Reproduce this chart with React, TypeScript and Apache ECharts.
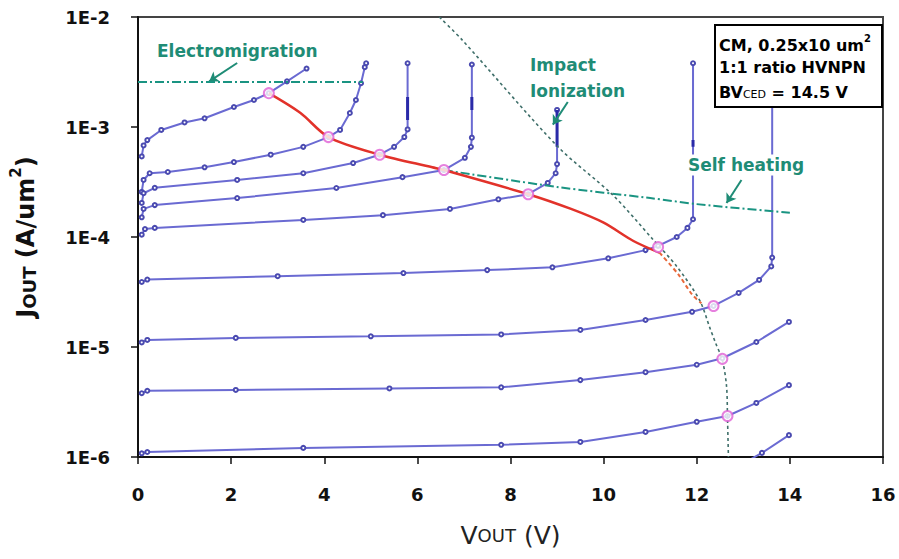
import React, { useEffect, useRef } from 'react';
import * as echarts from 'echarts';

const FONT = 'DejaVu Sans';

// Measured I-V curves (V_OUT, J_OUT)
const curve1: [number, number][] = [[0.08, 5.4e-4], [0.12, 6.8e-4], [0.2, 7.6e-4], [0.5, 9.4e-4], [1.0, 1.1e-3], [1.43, 1.2e-3], [2.06, 1.52e-3], [2.49, 1.76e-3], [2.81, 2.03e-3], [3.2, 2.6e-3], [3.62, 3.4e-3]];
const curve2: [number, number][] = [[0.08, 2.57e-4], [0.12, 3.3e-4], [0.25, 3.8e-4], [0.64, 3.9e-4], [1.43, 4.3e-4], [2.06, 4.8e-4], [2.85, 5.6e-4], [3.55, 6.6e-4], [4.09, 8.1e-4], [4.34, 9.4e-4], [4.55, 1.34e-3], [4.68, 1.76e-3], [4.79, 2.5e-3], [4.87, 3.5e-3], [4.9, 3.8e-3]];
const curve3: [number, number][] = [[0.08, 2.04e-4], [0.12, 2.5e-4], [0.36, 2.8e-4], [2.13, 3.3e-4], [3.55, 3.8e-4], [4.62, 4.7e-4], [5.19, 5.6e-4], [5.5, 6.6e-4], [5.72, 8.1e-4], [5.79, 9.5e-4], [5.79, 3.8e-3]];
const curve4: [number, number][] = [[0.08, 1.51e-4], [0.12, 1.8e-4], [0.36, 1.95e-4], [2.13, 2.26e-4], [4.26, 2.79e-4], [5.68, 3.5e-4], [6.57, 4.06e-4], [7.02, 5.25e-4], [7.15, 6.6e-4], [7.17, 8.0e-4], [7.17, 3.7e-3]];
const curve5: [number, number][] = [[0.08, 1.05e-4], [0.15, 1.18e-4], [0.36, 1.21e-4], [3.55, 1.43e-4], [5.26, 1.58e-4], [6.7, 1.8e-4], [7.74, 2.2e-4], [8.38, 2.45e-4], [8.8, 3.1e-4], [8.97, 3.8e-4], [9.0, 4.6e-4], [9.0, 1.43e-3]];
const curve6: [number, number][] = [[0.08, 3.9e-5], [0.2, 4.1e-5], [3.0, 4.4e-5], [5.7, 4.7e-5], [7.5, 5.0e-5], [8.9, 5.3e-5], [10.1, 6.4e-5], [10.9, 7.6e-5], [11.17, 8.3e-5], [11.57, 1.0e-4], [11.8, 1.21e-4], [11.92, 1.45e-4], [11.92, 3.8e-3]];
const curve7: [number, number][] = [[0.08, 1.1e-5], [0.2, 1.16e-5], [2.1, 1.21e-5], [5.0, 1.25e-5], [7.8, 1.3e-5], [9.5, 1.43e-5], [10.9, 1.76e-5], [11.9, 2.09e-5], [12.36, 2.36e-5], [12.9, 3.1e-5], [13.34, 4.07e-5], [13.6, 5.4e-5], [13.62, 6.5e-5], [13.62, 3.66e-3]];
const curve8: [number, number][] = [[0.08, 3.8e-6], [0.2, 4.0e-6], [2.1, 4.07e-6], [5.4, 4.2e-6], [7.8, 4.3e-6], [9.5, 5.0e-6], [10.9, 5.9e-6], [12.0, 6.9e-6], [12.55, 7.9e-6], [13.28, 1.11e-5], [13.98, 1.69e-5]];
const curve9: [number, number][] = [[0.08, 1.08e-6], [0.2, 1.11e-6], [3.55, 1.21e-6], [7.8, 1.29e-6], [9.5, 1.37e-6], [10.9, 1.69e-6], [12.0, 2.09e-6], [12.66, 2.36e-6], [13.28, 3.1e-6], [13.98, 4.5e-6]];
const curve10: [number, number][] = [[13.15, 9.5e-7], [13.4, 1.09e-6], [13.98, 1.58e-6]];
const ivCurves = [curve1, curve2, curve3, curve4, curve5, curve6, curve7, curve8, curve9, curve10];

// Dense (overlapping-marker) segments of the snapback verticals
const thickSegments: [number, number][][] = [
  [[5.79, 1.16e-3], [5.79, 1.87e-3]],
  [[7.17, 1.43e-3], [7.17, 1.87e-3]],
  [[9.0, 6.6e-4], [9.0, 1.43e-3]],
  [[11.92, 6.6e-4], [11.92, 7.6e-4]],
];

// Limit lines
const electromigration: [number, number][] = [[0, 2.57e-3], [4.83, 2.57e-3]];
const selfHeating: [number, number][] = [[6.57, 4.06e-4], [9.0, 2.85e-4], [11.0, 2.26e-4], [12.0, 1.99e-4], [14.0, 1.66e-4]];
const impactIonization: [number, number][] = [[6.47, 1e-2], [6.96, 6.2e-3], [9.02, 6.6e-4], [10.2, 2.4e-4], [11.05, 9.6e-5], [11.57, 5.4e-5], [12.06, 2.67e-5], [12.28, 1.5e-5], [12.4, 1.1e-5], [12.55, 7.6e-6], [12.64, 4.4e-6], [12.66, 2.3e-6], [12.68, 1e-6]];
const soaBoundary: [number, number][] = [[2.81, 2.03e-3], [3.49, 1.34e-3], [4.09, 8.1e-4], [5.19, 5.6e-4], [6.32, 4.3e-4], [6.57, 4.06e-4], [8.38, 2.45e-4], [9.3, 1.8e-4], [10.0, 1.35e-4], [10.64, 9.2e-5], [11.2, 7.2e-5]];
const soaTail: [number, number][] = [[11.2, 7.2e-5], [11.6, 4.6e-5], [11.9, 3.0e-5], [12.1, 2.5e-5]];
const soaPoints: [number, number][] = [[2.81, 2.03e-3], [4.09, 8.1e-4], [5.19, 5.6e-4], [6.57, 4.06e-4], [8.38, 2.45e-4], [11.17, 8.1e-5], [12.36, 2.36e-5], [12.55, 7.8e-6], [12.66, 2.36e-6]];

// Annotation arrows [from, to]
const arrows: [number, number][][] = [
  [[2.13, 3.82e-3], [1.53, 2.6e-3]],
  [[9.23, 1.69e-3], [8.91, 1.05e-3]],
  [[12.96, 3.3e-4], [12.64, 2.04e-4]],
];

const xMin = 0, xMax = 16, xStep = 2;
const yMin = 1e-6, yMax = 1e-2;

const TEAL = '#1f8c76';
const BLUE = '#6a6ad2';

export default function App() {
  const ref = useRef<HTMLDivElement>(null);
  useEffect(() => {
    const chart = echarts.init(ref.current!, null, { renderer: 'svg' });
    const series: any[] = [];
    ivCurves.forEach((c, i) => {
      series.push({
        type: 'line', name: 'curve' + (i + 1), data: c,
        showSymbol: true, symbol: 'emptyCircle', symbolSize: 4,
        lineStyle: { color: BLUE, width: 2 },
        itemStyle: { color: '#4a4ab0', borderWidth: 1 },
        z: 3, silent: true,
      });
    });
    thickSegments.forEach((s) => {
      series.push({ type: 'line', data: s, showSymbol: false, lineStyle: { color: '#2a2aa8', width: 3 }, z: 4 });
    });
    series.push({ type: 'line', name: 'Electromigration', data: electromigration, showSymbol: false,
      lineStyle: { color: '#1a9482', width: 2, type: [9, 3, 2, 3] }, z: 5 });
    series.push({ type: 'line', name: 'Self heating', data: selfHeating, showSymbol: false, smooth: 0.3,
      lineStyle: { color: '#1a9482', width: 2, type: [9, 3, 2, 3] }, z: 5 });
    series.push({ type: 'line', name: 'Impact ionization', data: impactIonization, showSymbol: false, smooth: 0.3,
      lineStyle: { color: '#3f6f6a', width: 1.6, type: [3, 3] }, z: 5 });
    series.push({ type: 'line', name: 'SOA', data: soaBoundary, showSymbol: false, smooth: 0.3,
      lineStyle: { color: '#e2322a', width: 2.5 }, z: 6 });
    series.push({ type: 'line', name: 'SOA tail', data: soaTail, showSymbol: false, smooth: 0.3,
      lineStyle: { color: '#e8683a', width: 2, type: [4, 3] }, z: 6,
      markLine: {
        silent: true, symbol: ['none', 'arrow'], symbolSize: 9, label: { show: false },
        lineStyle: { color: TEAL, width: 2, type: 'solid' },
        data: arrows.map((a) => [{ coord: a[0] }, { coord: a[1] }]),
      } });
    series.push({ type: 'scatter', name: 'points', data: soaPoints, symbol: 'emptyCircle', symbolSize: 10,
      itemStyle: { color: '#e060d6', borderColor: '#e060d6', borderWidth: 1.6 }, z: 7 });

    const txt = (x: number, y: number, text: string, size: number, extra: any = {}) => ({
      type: 'text', x, y, z: 100,
      style: { text, fill: TEAL, font: `bold ${size}px ${FONT}`, textVerticalAlign: 'middle', ...extra },
    });

    chart.setOption({
      animation: false,
      backgroundColor: '#fff',
      grid: { left: 133, top: 17, right: 16, bottom: 102, show: true, borderColor: '#444', borderWidth: 2 },
      xAxis: {
        type: 'value', min: xMin, max: xMax, interval: xStep,
        name: '{v|V}{s|OUT}{v| (V)}', nameLocation: 'middle', nameGap: 66,
        nameTextStyle: { rich: {
          v: { fontFamily: FONT, fontSize: 25, color: '#222' },
          s: { fontFamily: FONT, fontSize: 18, color: '#222' },
        } },
        axisLine: { show: true, lineStyle: { color: '#111', width: 2 } },
        axisTick: { show: true, length: 7, lineStyle: { color: '#111', width: 1.5 } },
        axisLabel: { margin: 28, fontFamily: FONT, fontWeight: 'bold', fontSize: 18, color: '#111' },
        splitLine: { show: false },
      },
      yAxis: {
        type: 'log', logBase: 10, min: yMin, max: yMax, interval: 1,
        name: '{j|J}{s|OUT}{j| (A/um}{p|2}{j|)}', nameLocation: 'middle', nameGap: 100, nameRotate: 90,
        nameTextStyle: { rich: {
          j: { fontFamily: FONT, fontWeight: 'bold', fontSize: 24, color: '#111', lineHeight: 30, verticalAlign: 'bottom' },
          s: { fontFamily: FONT, fontWeight: 'bold', fontSize: 18, color: '#111', lineHeight: 30, verticalAlign: 'bottom' },
          p: { fontFamily: FONT, fontWeight: 'bold', fontSize: 15, color: '#111', lineHeight: 30, verticalAlign: 'top' },
        } },
        axisLine: { show: true, lineStyle: { color: '#111', width: 2 } },
        axisTick: { show: true, length: 7, lineStyle: { color: '#111', width: 1.5 } },
        axisLabel: { margin: 28, fontFamily: FONT, fontWeight: 'bold', fontSize: 18, color: '#111',
          formatter: (v: number) => '1E' + Math.round(Math.log10(v)) },
        splitLine: { show: false },
        minorTick: { show: false },
      },
      graphic: [
        txt(157, 51, 'Electromigration', 17),
        txt(530, 65, 'Impact', 17),
        txt(530, 91, 'Ionization', 17),
        txt(686, 165, 'Self heating', 17, { backgroundColor: '#fff', padding: [2, 2] }),
        {
          type: 'rect', z: 100, shape: { x: 715, y: 25, width: 167, height: 82 },
          style: { fill: '#fff', stroke: '#000', lineWidth: 2 },
        },
        {
          type: 'text', x: 719, y: 43, z: 101,
          style: { text: '{a|CM, 0.25x10 um}{p|2}', textVerticalAlign: 'middle',
            rich: { a: { font: `bold 16px ${FONT}`, fill: '#000', lineHeight: 20, verticalAlign: 'bottom' },
                    p: { font: `bold 10px ${FONT}`, fill: '#000', lineHeight: 20, verticalAlign: 'top' } } },
        },
        {
          type: 'text', x: 719, y: 67, z: 101,
          style: { text: '1:1 ratio HVNPN', fill: '#000', font: `bold 16px ${FONT}`, textVerticalAlign: 'middle' },
        },
        {
          type: 'text', x: 719, y: 90, z: 101,
          style: { text: '{a|BV}{s|CED}{a| = 14.5 V}', textVerticalAlign: 'middle',
            rich: { a: { font: `bold 16px ${FONT}`, fill: '#000', lineHeight: 20, verticalAlign: 'bottom' },
                    s: { font: `11px ${FONT}`, fill: '#000', lineHeight: 20, verticalAlign: 'bottom' } } },
        },
      ],
      series,
    });
    return () => chart.dispose();
  }, []);
  return <div ref={ref} style={{ position: 'fixed', left: 0, top: 0, width: 899, height: 559 }} />;
}
